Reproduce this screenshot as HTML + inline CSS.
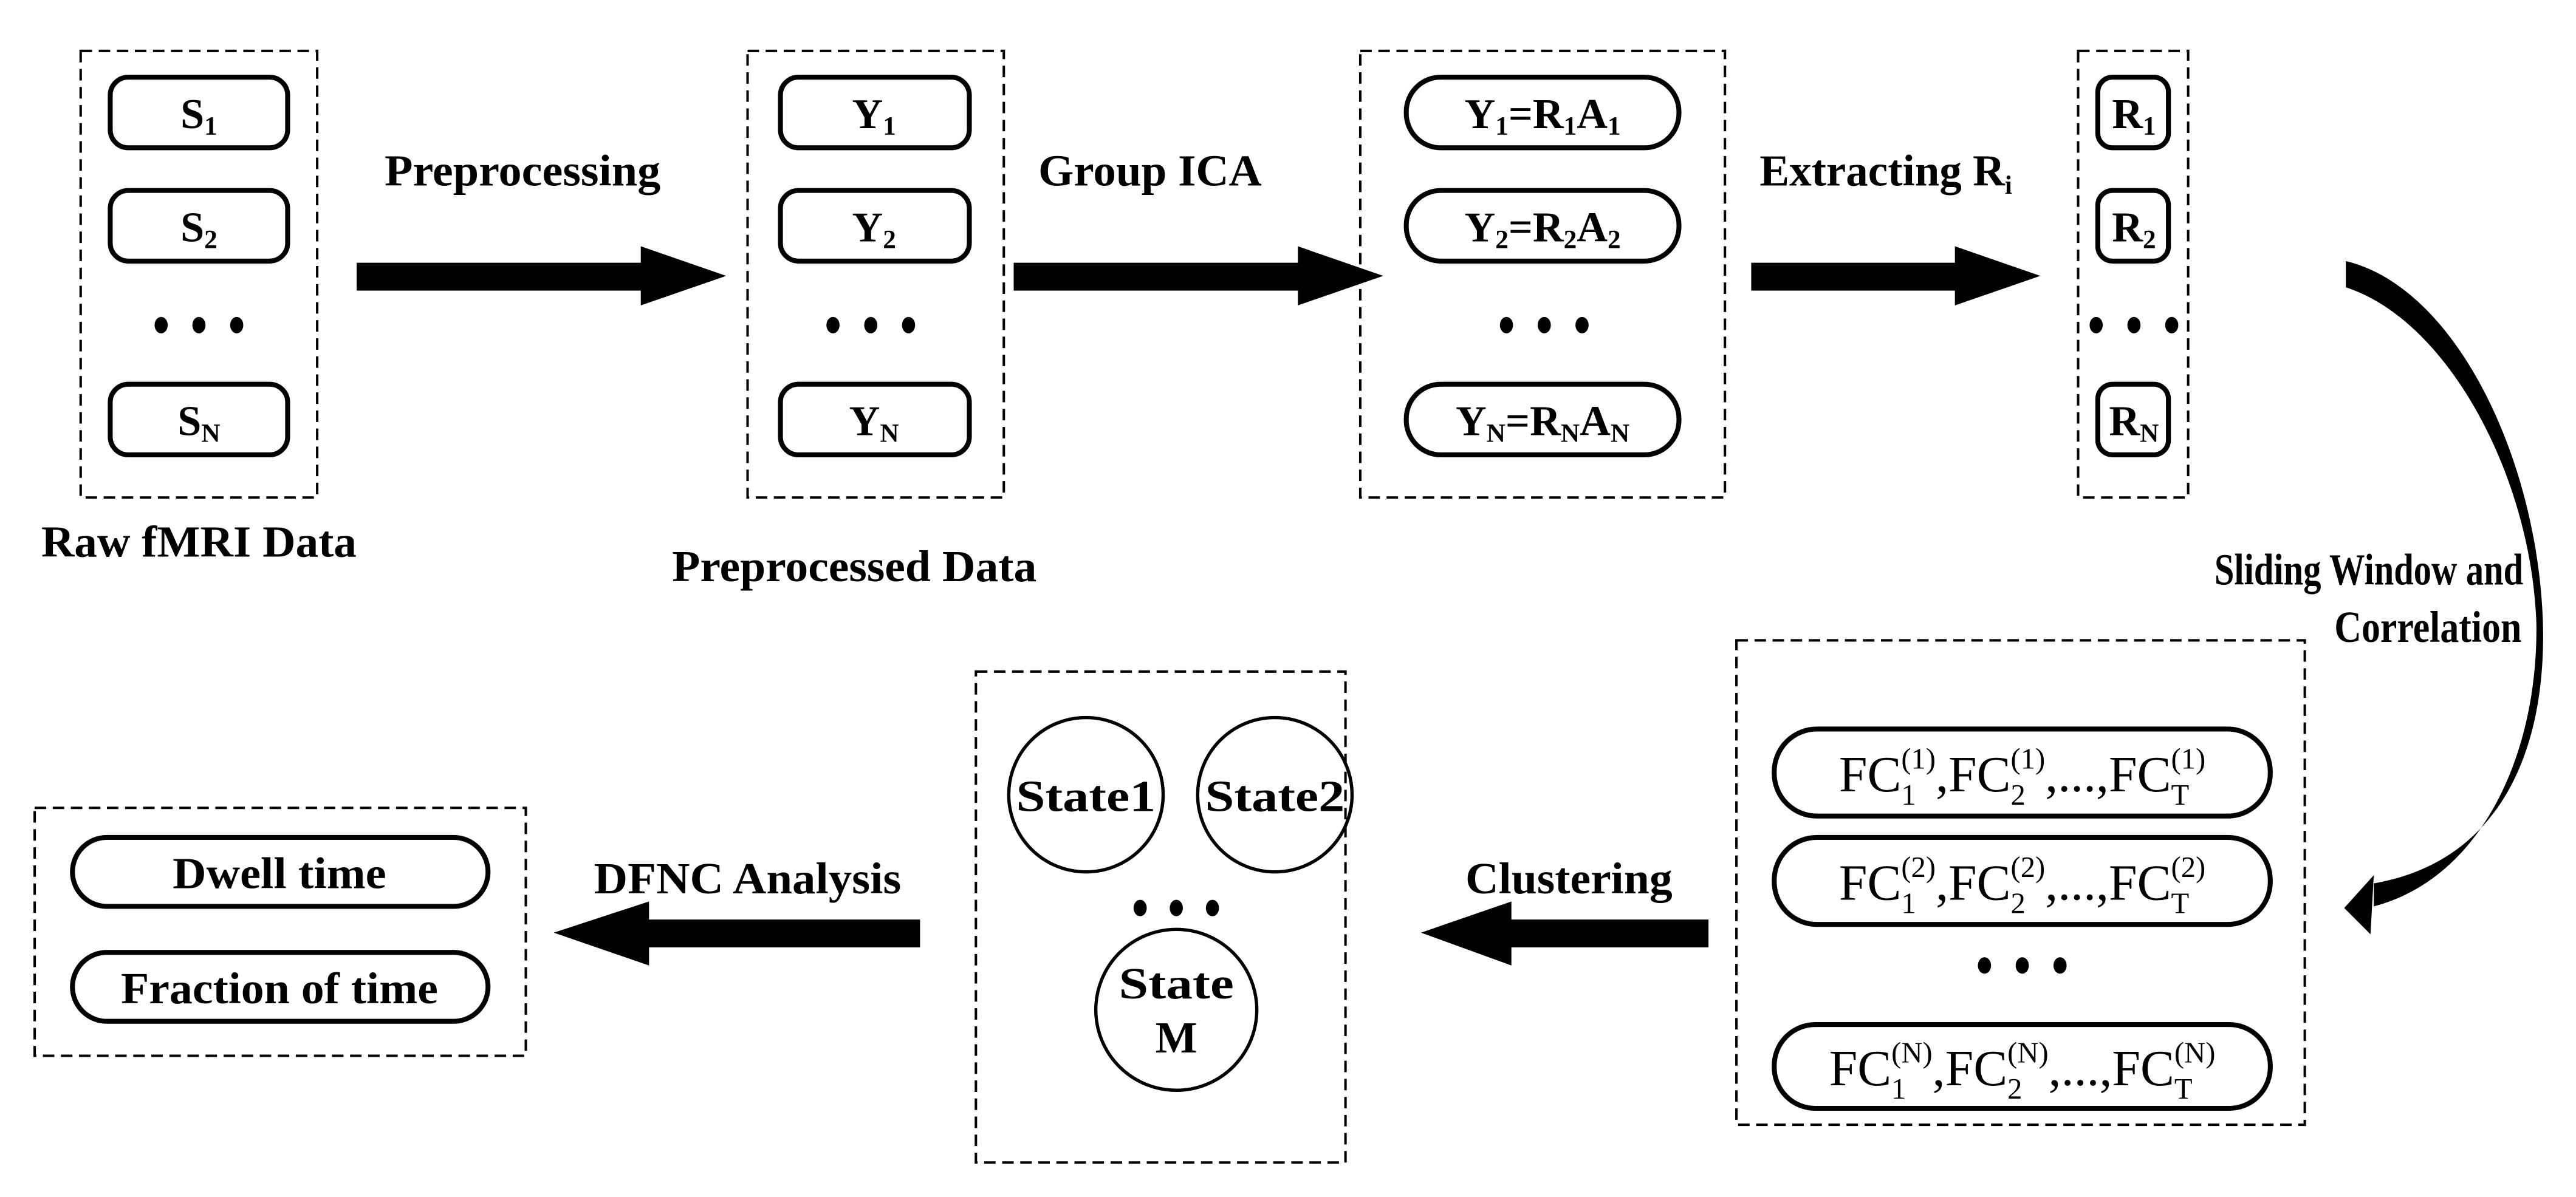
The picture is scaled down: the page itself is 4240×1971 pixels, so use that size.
<!DOCTYPE html>
<html><head><meta charset="utf-8"><style>
html,body{margin:0;padding:0;background:#fff;}
svg{display:block;}
text{font-family:"Liberation Serif",serif;fill:#000;}
.b{font-weight:bold;}
</style></head><body>
<svg width="4240" height="1971" viewBox="0 0 1568 729" xmlns="http://www.w3.org/2000/svg">
<g fill="none" stroke="#000" stroke-width="1.5" stroke-dasharray="7 4">
<rect x="49" y="31" width="144" height="272"/>
<rect x="455" y="31" width="156" height="272"/>
<rect x="828" y="31" width="222" height="272"/>
<rect x="1265" y="31" width="67" height="272"/>
<rect x="1057" y="390" width="346" height="295"/>
<rect x="594" y="409" width="225" height="299"/>
<rect x="21" y="492" width="299" height="151"/>
</g>
<g fill="none" stroke="#000" stroke-width="3">
<rect x="67" y="47" width="108" height="43" rx="11"/>
<rect x="67" y="116" width="108" height="43" rx="11"/>
<rect x="67" y="234" width="108" height="43" rx="11"/>
<rect x="475" y="47" width="115" height="43" rx="11"/>
<rect x="475" y="116" width="115" height="43" rx="11"/>
<rect x="475" y="234" width="115" height="43" rx="11"/>
<rect x="856" y="47" width="166" height="43" rx="21"/>
<rect x="856" y="116" width="166" height="43" rx="21"/>
<rect x="856" y="234" width="166" height="43" rx="21"/>
<rect x="1277" y="47" width="43" height="43" rx="9"/>
<rect x="1277" y="116" width="43" height="43" rx="9"/>
<rect x="1277" y="234" width="43" height="43" rx="9"/>
<rect x="1080" y="444" width="302" height="53" rx="26"/>
<rect x="1080" y="510" width="302" height="53" rx="26"/>
<rect x="1080" y="624" width="302" height="51" rx="25"/>
<rect x="44" y="510" width="253" height="42" rx="21"/>
<rect x="44" y="580" width="253" height="42" rx="21"/>
</g>
<g fill="none" stroke="#000" stroke-width="2">
<circle cx="661" cy="484" r="47"/>
<circle cx="776" cy="484" r="47"/>
<circle cx="716" cy="615" r="49"/>
</g>
<g fill="#000">
<ellipse cx="98" cy="198" rx="4" ry="5"/><ellipse cx="121" cy="198" rx="4" ry="5"/><ellipse cx="144" cy="198" rx="4" ry="5"/>
<ellipse cx="507" cy="198" rx="4" ry="5"/><ellipse cx="530" cy="198" rx="4" ry="5"/><ellipse cx="553" cy="198" rx="4" ry="5"/>
<ellipse cx="917" cy="198" rx="4" ry="5"/><ellipse cx="940" cy="198" rx="4" ry="5"/><ellipse cx="963" cy="198" rx="4" ry="5"/>
<ellipse cx="1276" cy="198" rx="4" ry="5"/><ellipse cx="1299" cy="198" rx="4" ry="5"/><ellipse cx="1322" cy="198" rx="4" ry="5"/>
<ellipse cx="1208" cy="588" rx="4" ry="5"/><ellipse cx="1231" cy="588" rx="4" ry="5"/><ellipse cx="1254" cy="588" rx="4" ry="5"/>
<ellipse cx="694" cy="553" rx="4" ry="5"/><ellipse cx="716" cy="553" rx="4" ry="5"/><ellipse cx="738" cy="553" rx="4" ry="5"/>
<polygon points="217,160 390,160 390,150 442,168 390,186 390,177 217,177"/>
<polygon points="617,160 790,160 790,150 842,168 790,186 790,177 617,177"/>
<polygon points="1066,160 1190,160 1190,150 1242,168 1190,186 1190,177 1066,177"/>
<polygon points="1040,560 920,560 920,549 865,568 920,588 920,577 1040,577"/>
<polygon points="560,560 395,560 395,549 337,568 395,588 395,577 560,577"/>
<path d="M1428,159 C1495,175 1545,280 1548,380 C1550,460 1520,525 1445,538 L1445,552 C1510,535 1545,460 1544,380 C1541,290 1490,195 1428,175 Z"/>
<polygon points="1427,553 1445,533 1443,569"/>
</g>
<g class="b" font-size="27" text-anchor="middle">
<text x="318" y="113" textLength="168" lengthAdjust="spacingAndGlyphs">Preprocessing</text>
<text x="700" y="113" textLength="136" lengthAdjust="spacingAndGlyphs">Group ICA</text>
<text x="1148" y="113">Extracting R<tspan font-size="16" dy="5">i</tspan></text>
<text x="121" y="339" textLength="192" lengthAdjust="spacingAndGlyphs">Raw fMRI Data</text>
<text x="520" y="354" textLength="222" lengthAdjust="spacingAndGlyphs">Preprocessed Data</text>
<text x="1442" y="356" textLength="188" lengthAdjust="spacingAndGlyphs">Sliding Window and</text>
<text x="1478" y="391" textLength="114" lengthAdjust="spacingAndGlyphs">Correlation</text>
<text x="955" y="544" textLength="126" lengthAdjust="spacingAndGlyphs">Clustering</text>
<text x="455" y="544" textLength="187" lengthAdjust="spacingAndGlyphs">DFNC Analysis</text>
<text x="170" y="541" textLength="130" lengthAdjust="spacingAndGlyphs">Dwell time</text>
<text x="170" y="611" textLength="193" lengthAdjust="spacingAndGlyphs">Fraction of time</text>
<text x="661" y="494" textLength="85" lengthAdjust="spacingAndGlyphs">State1</text>
<text x="776" y="494" textLength="85" lengthAdjust="spacingAndGlyphs">State2</text>
<text x="716" y="608" textLength="70" lengthAdjust="spacingAndGlyphs">State</text>
<text x="716" y="641">M</text>
</g>
<g class="b" font-size="26" text-anchor="middle">
<text x="121" y="78">S<tspan font-size="16" dy="4">1</tspan></text>
<text x="121" y="147">S<tspan font-size="16" dy="4">2</tspan></text>
<text x="121" y="265">S<tspan font-size="16" dy="4">N</tspan></text>
<text x="532" y="78">Y<tspan font-size="16" dy="4">1</tspan></text>
<text x="532" y="147">Y<tspan font-size="16" dy="4">2</tspan></text>
<text x="532" y="265">Y<tspan font-size="16" dy="4">N</tspan></text>
<text x="939" y="78">Y<tspan font-size="16" dy="4">1</tspan><tspan dy="-4">=R</tspan><tspan font-size="16" dy="4">1</tspan><tspan dy="-4">A</tspan><tspan font-size="16" dy="4">1</tspan></text>
<text x="939" y="147">Y<tspan font-size="16" dy="4">2</tspan><tspan dy="-4">=R</tspan><tspan font-size="16" dy="4">2</tspan><tspan dy="-4">A</tspan><tspan font-size="16" dy="4">2</tspan></text>
<text x="939" y="265">Y<tspan font-size="16" dy="4">N</tspan><tspan dy="-4">=R</tspan><tspan font-size="16" dy="4">N</tspan><tspan dy="-4">A</tspan><tspan font-size="16" dy="4">N</tspan></text>
<text x="1299" y="78">R<tspan font-size="16" dy="4">1</tspan></text>
<text x="1299" y="147">R<tspan font-size="16" dy="4">2</tspan></text>
<text x="1299" y="265">R<tspan font-size="16" dy="4">N</tspan></text>
</g>
<g font-size="31" text-anchor="middle">
<text x="1231" y="482">FC<tspan font-size="18" dy="8">1</tspan><tspan font-size="18" dx="-9" dy="-22">(1)</tspan><tspan dy="14">,FC</tspan><tspan font-size="18" dy="8">2</tspan><tspan font-size="18" dx="-9" dy="-22">(1)</tspan><tspan dy="14">,...,FC</tspan><tspan font-size="18" dy="8">T</tspan><tspan font-size="18" dx="-11" dy="-22">(1)</tspan></text>
<text x="1231" y="548">FC<tspan font-size="18" dy="8">1</tspan><tspan font-size="18" dx="-9" dy="-22">(2)</tspan><tspan dy="14">,FC</tspan><tspan font-size="18" dy="8">2</tspan><tspan font-size="18" dx="-9" dy="-22">(2)</tspan><tspan dy="14">,...,FC</tspan><tspan font-size="18" dy="8">T</tspan><tspan font-size="18" dx="-11" dy="-22">(2)</tspan></text>
<text x="1231" y="661">FC<tspan font-size="18" dy="8">1</tspan><tspan font-size="18" dx="-9" dy="-22">(N)</tspan><tspan dy="14">,FC</tspan><tspan font-size="18" dy="8">2</tspan><tspan font-size="18" dx="-9" dy="-22">(N)</tspan><tspan dy="14">,...,FC</tspan><tspan font-size="18" dy="8">T</tspan><tspan font-size="18" dx="-11" dy="-22">(N)</tspan></text>
</g>
</svg>
</body></html>
